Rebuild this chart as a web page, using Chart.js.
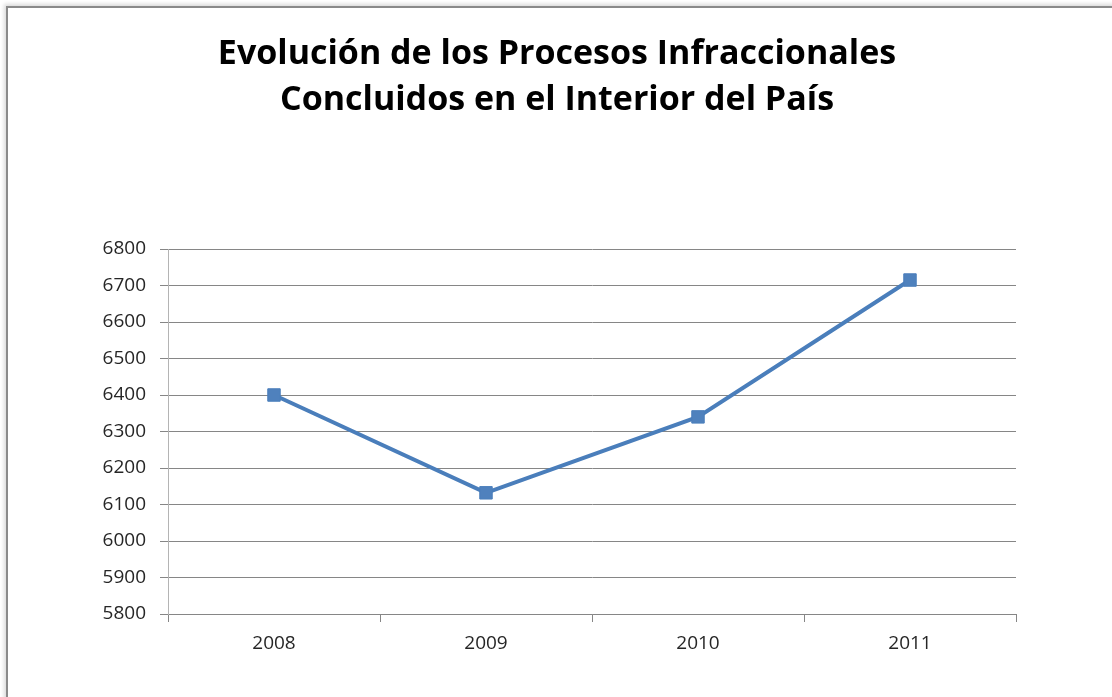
<!DOCTYPE html>
<html>
<head>
<meta charset="utf-8">
<script src="https://cdn.jsdelivr.net/npm/chart.js@4"></script>
<style>
  html, body { margin: 0; padding: 0; background: #fff; overflow: hidden; }
  #frame {
    position: absolute; left: 6px; top: 6px; width: 1200px; height: 800px;
    border: 2px solid #8a8a8a; box-shadow: -2px -2px 4px rgba(0,0,0,0.15);
  }
  #wrap { position: absolute; left: 0; top: 0; width: 1112px; height: 697px; }
</style>
</head>
<body>
<div id="frame"></div>
<div id="wrap"><canvas id="chart" width="1112" height="697"></canvas></div>
<script>
// Chart data
const years = ["2008", "2009", "2010", "2011"];
const procesos = [6400, 6132, 6340, 6715];
const yMin = 5800;
const yMax = 6800;
const yStep = 100;

const titleLines = ["Evolución de los Procesos Infraccionales", "Concluidos en el Interior del País"];

const gridColor = "#868686";
const textColor = "#262626";

const ctx = document.getElementById("chart").getContext("2d");
new Chart(ctx, {
  type: "line",
  data: {
    labels: years,
    datasets: [{
      label: "Procesos",
      data: procesos,
      borderColor: "#4A7EBB",
      backgroundColor: "#4F81BD",
      borderWidth: 4,
      tension: 0,
      pointStyle: "rect",
      pointRadius: 8.8,
      pointBorderWidth: 1,
      pointBorderColor: "#4A7EBB",
      pointBackgroundColor: "#4F81BD",
    }]
  },
  options: {
    responsive: false,
    animation: false,
    devicePixelRatio: 1,
    // left padding shifts the title centre to the right, like the original
    layout: { padding: { left: 98, right: 96, top: 0, bottom: 0 } },
    plugins: {
      legend: { display: false },
      tooltip: { enabled: false },
      title: {
        display: true,
        text: titleLines,
        color: "#000",
        font: { family: "'Open Sans'", size: 34, weight: "bold", lineHeight: 1.353 },
        padding: { top: 31, bottom: 126 },
      },
    },
    scales: {
      x: {
        offset: true,
        grid: { offset: true, drawOnChartArea: false, drawTicks: true, tickLength: 8, color: gridColor },
        border: { display: true, color: gridColor },
        ticks: { color: textColor, font: { family: "'Open Sans'", size: 19 }, padding: 10, maxRotation: 0 },
        afterFit: (scale) => { scale.height = 83; },
      },
      y: {
        min: yMin,
        max: yMax,
        grid: { color: gridColor, tickLength: 8 },
        border: { display: true, color: "#b4b4b4" },
        ticks: {
          stepSize: yStep,
          color: textColor,
          font: { family: "'Open Sans'", size: 19 },
          padding: 14,
          callback: (v) => String(v),
        },
        afterFit: (scale) => { scale.width = 70; },
      },
    },
  },
});
</script>
</body>
</html>
